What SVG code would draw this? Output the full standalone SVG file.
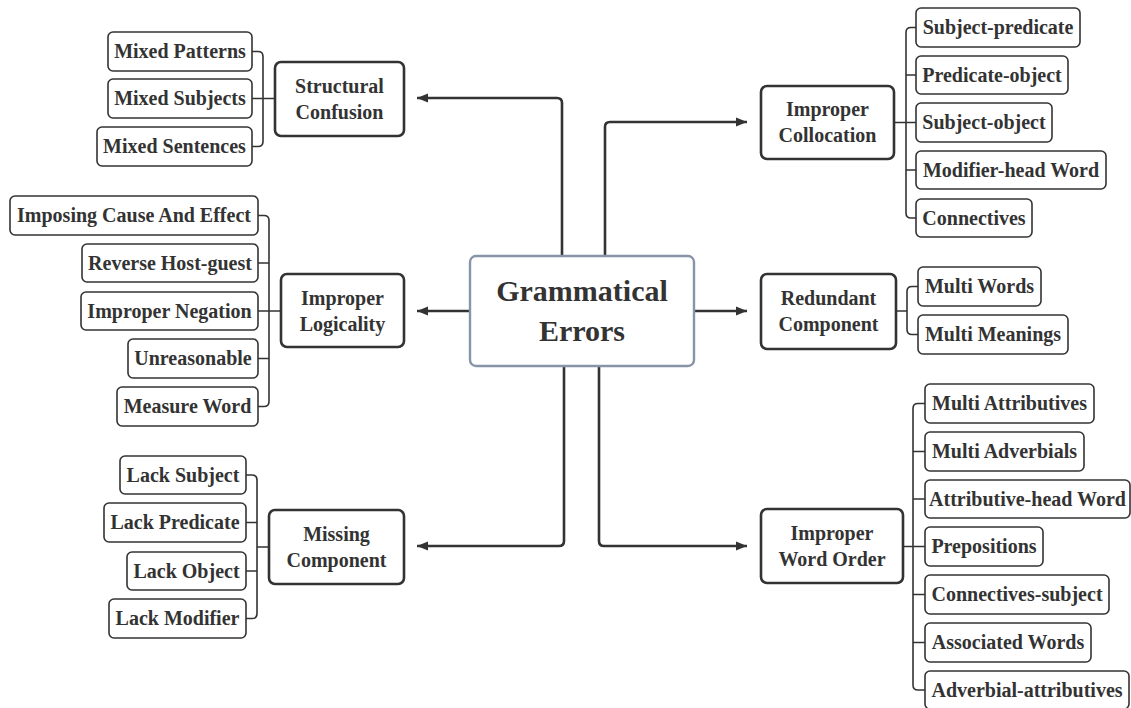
<svg xmlns="http://www.w3.org/2000/svg" width="1131" height="708" viewBox="0 0 1131 708">
<style>
text{font-family:'Liberation Serif',Tinos,'Times New Roman',Times,'DejaVu Serif',serif;font-weight:700;fill:#333;text-anchor:middle}
.leaf rect{fill:#fff;stroke:#333;stroke-width:1.6}
.leaf text{font-size:20px}
.mid rect{fill:#fff;stroke:#333;stroke-width:2.6}
.mid text{font-size:20px}
.root rect{fill:#fff;stroke:#8794a8;stroke-width:2.4}
.root text{font-size:30px}
.br{fill:none;stroke:#333;stroke-width:1.6}
.main{fill:none;stroke:#333;stroke-width:2.6}
</style>
<defs>
<marker id="ah" markerUnits="userSpaceOnUse" markerWidth="12" markerHeight="10" refX="11" refY="5" orient="auto">
<path d="M0,0.5 L11,5 L0,9.5 Z" fill="#333"/>
</marker>
</defs>
<g id="connectors">
<path class="main" marker-end="url(#ah)" d="M562,257 V103 Q562,98 557,98 H417"/>
<path class="main" marker-end="url(#ah)" d="M605,257 V127 Q605,122 610,122 H747"/>
<path class="main" marker-end="url(#ah)" d="M470,311 H417"/>
<path class="main" marker-end="url(#ah)" d="M694,311 H747"/>
<path class="main" marker-end="url(#ah)" d="M564,366 V541 Q564,546 559,546 H417"/>
<path class="main" marker-end="url(#ah)" d="M599,366 V541 Q599,546 604,546 H747"/>
<path class="br" d="M252,51.5 H258 Q263,51.5 263,56.5 V141.5 Q263,146.5 258,146.5 H252 M252,98.5 H275"/>
<path class="br" d="M258,215.5 H264 Q269,215.5 269,220.5 V401.5 Q269,406.5 264,406.5 H258 M258,263 H269 M258,311 H281 M258,358.5 H269"/>
<path class="br" d="M246,475 H252 Q257,475 257,480 V613.5 Q257,618.5 252,618.5 H246 M246,522.5 H257 M246,571 H257 M257,547 H269"/>
<path class="br" d="M916,27.5 H911 Q906,27.5 906,32.5 V213 Q906,218 911,218 H916 M916,75 H906 M916,170 H906 M894,122.5 H916"/>
<path class="br" d="M918,286.5 H912 Q907,286.5 907,291.5 V329.5 Q907,334.5 912,334.5 H918 M896,311 H907"/>
<path class="br" d="M925,403.5 H918 Q913,403.5 913,408.5 V685 Q913,690 918,690 H925 M925,451.5 H913 M925,499 H913 M903,546.5 H925 M925,594.5 H913 M925,642.5 H913"/>
</g>
<g id="root" class="root">
<rect x="470" y="256" width="224" height="110" rx="6"/>
<text x="582" y="301">Grammatical</text>
<text x="582" y="341">Errors</text>
</g>
<g id="structural" class="mid">
<rect x="275" y="62" width="129" height="74" rx="6"/>
<text x="339.5" y="93">Structural</text>
<text x="339.5" y="119">Confusion</text>
</g>
<g id="logicality" class="mid">
<rect x="281" y="274" width="123" height="73" rx="6"/>
<text x="342.5" y="305">Improper</text>
<text x="342.5" y="331">Logicality</text>
</g>
<g id="missing" class="mid">
<rect x="269" y="510" width="135" height="74" rx="6"/>
<text x="336.5" y="541">Missing</text>
<text x="336.5" y="567">Component</text>
</g>
<g id="collocation" class="mid">
<rect x="761" y="86" width="133" height="73" rx="6"/>
<text x="827.5" y="116">Improper</text>
<text x="827.5" y="142">Collocation</text>
</g>
<g id="redundant" class="mid">
<rect x="761" y="274" width="135" height="75" rx="6"/>
<text x="828.5" y="305">Redundant</text>
<text x="828.5" y="331">Component</text>
</g>
<g id="wordorder" class="mid">
<rect x="761" y="509" width="142" height="74" rx="6"/>
<text x="832" y="540">Improper</text>
<text x="832" y="566">Word Order</text>
</g>
<g id="leaf-mixed-patterns" class="leaf"><rect x="108" y="32" width="144" height="39" rx="5"/><text x="180" y="58">Mixed Patterns</text></g>
<g id="leaf-mixed-subjects" class="leaf"><rect x="108" y="79" width="144" height="39" rx="5"/><text x="180" y="105">Mixed Subjects</text></g>
<g id="leaf-mixed-sentences" class="leaf"><rect x="97" y="127" width="155" height="39" rx="5"/><text x="174.5" y="153">Mixed Sentences</text></g>
<g id="leaf-imposing" class="leaf"><rect x="10" y="196" width="248" height="39" rx="5"/><text x="134" y="222">Imposing Cause And Effect</text></g>
<g id="leaf-reverse" class="leaf"><rect x="82" y="244" width="176" height="38" rx="5"/><text x="170" y="270">Reverse Host-guest</text></g>
<g id="leaf-negation" class="leaf"><rect x="81" y="292" width="177" height="38" rx="5"/><text x="169.5" y="318">Improper Negation</text></g>
<g id="leaf-unreasonable" class="leaf"><rect x="128" y="339" width="130" height="39" rx="5"/><text x="193" y="365">Unreasonable</text></g>
<g id="leaf-measure" class="leaf"><rect x="117" y="387" width="141" height="39" rx="5"/><text x="187.5" y="413">Measure Word</text></g>
<g id="leaf-lack-subject" class="leaf"><rect x="120" y="456" width="126" height="38" rx="5"/><text x="183" y="482">Lack Subject</text></g>
<g id="leaf-lack-predicate" class="leaf"><rect x="104" y="503" width="142" height="39" rx="5"/><text x="175" y="529">Lack Predicate</text></g>
<g id="leaf-lack-object" class="leaf"><rect x="127" y="552" width="119" height="38" rx="5"/><text x="186.5" y="578">Lack Object</text></g>
<g id="leaf-lack-modifier" class="leaf"><rect x="109" y="599" width="137" height="39" rx="5"/><text x="177.5" y="625">Lack Modifier</text></g>
<g id="leaf-subj-pred" class="leaf"><rect x="916" y="8" width="164" height="39" rx="5"/><text x="998" y="34">Subject-predicate</text></g>
<g id="leaf-pred-obj" class="leaf"><rect x="916" y="56" width="152" height="38" rx="5"/><text x="992" y="82">Predicate-object</text></g>
<g id="leaf-subj-obj" class="leaf"><rect x="916" y="103" width="136" height="39" rx="5"/><text x="984" y="129">Subject-object</text></g>
<g id="leaf-modifier-head" class="leaf"><rect x="916" y="151" width="190" height="38" rx="5"/><text x="1011" y="177">Modifier-head Word</text></g>
<g id="leaf-connectives" class="leaf"><rect x="916" y="199" width="116" height="38" rx="5"/><text x="974" y="225">Connectives</text></g>
<g id="leaf-multi-words" class="leaf"><rect x="918" y="267" width="123" height="39" rx="5"/><text x="979.5" y="293">Multi Words</text></g>
<g id="leaf-multi-meanings" class="leaf"><rect x="918" y="315" width="150" height="39" rx="5"/><text x="993" y="341">Multi Meanings</text></g>
<g id="leaf-multi-attr" class="leaf"><rect x="925" y="384" width="169" height="39" rx="5"/><text x="1009.5" y="410">Multi Attributives</text></g>
<g id="leaf-multi-adv" class="leaf"><rect x="925" y="432" width="159" height="39" rx="5"/><text x="1004.5" y="458">Multi Adverbials</text></g>
<g id="leaf-attr-head" class="leaf"><rect x="925" y="480" width="205" height="38" rx="5"/><text x="1027.5" y="506">Attributive-head Word</text></g>
<g id="leaf-prepositions" class="leaf"><rect x="925" y="527" width="118" height="39" rx="5"/><text x="984" y="553">Prepositions</text></g>
<g id="leaf-conn-subj" class="leaf"><rect x="925" y="575" width="184" height="39" rx="5"/><text x="1017" y="601">Connectives-subject</text></g>
<g id="leaf-associated" class="leaf"><rect x="925" y="623" width="166" height="39" rx="5"/><text x="1008" y="649">Associated Words</text></g>
<g id="leaf-adv-attr" class="leaf"><rect x="925" y="671" width="204" height="38" rx="5"/><text x="1027" y="697">Adverbial-attributives</text></g>
</svg>
